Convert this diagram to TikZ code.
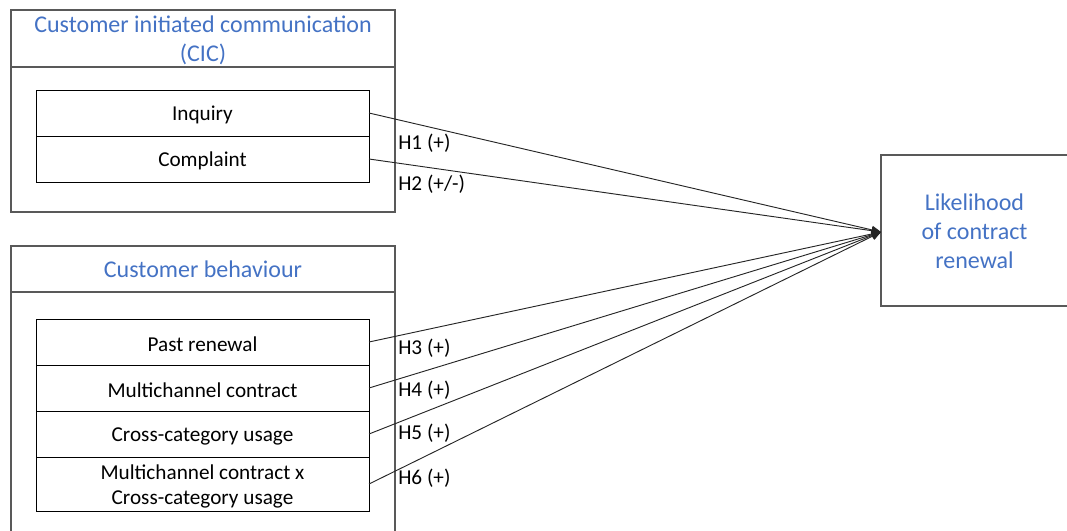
\documentclass[tikz,border=0pt]{standalone}
\usepackage{fontspec}
\setmainfont{Carlito}
\usetikzlibrary{arrows.meta}
\definecolor{hblue}{HTML}{4472C4}
\definecolor{framegray}{HTML}{595959}
\begin{document}
\begin{tikzpicture}[x=0.75pt,y=-0.75pt,
 outerbox/.style={draw=framegray,line width=0.9pt,inner sep=0pt,outer sep=0pt},
 rowbox/.style={draw=black,line width=0.65pt,minimum width={333*0.75pt},minimum height={46*0.75pt},inner sep=0pt,outer sep=0pt},
 rowtext/.style={font=\fontsize{15.9}{18.75}\selectfont,align=center,inner sep=0pt,yshift=-1.6pt},
 headtext/.style={text=hblue,font=\fontsize{18}{21.75}\selectfont,align=center,inner sep=0pt},
 hyp/.style={anchor=west,inner sep=0pt,font=\fontsize{15.9}{19}\selectfont},
 link/.style={draw=black!85,line width=0.7pt,-{Triangle[length=7pt,width=6pt]}}]
\clip (0,0) rectangle (1067,531);
\useasboundingbox (0,0) rectangle (1067,531);
% CIC group
\node[outerbox,minimum width={384*0.75pt},minimum height={202*0.75pt}] (cicbox) at (203,111) {};
\node[outerbox,minimum width={384*0.75pt},minimum height={57*0.75pt}] (cichead) at (203,38.5) {};
\node[headtext] (cictitle) at (203,40.5) {Customer initiated communication\\(CIC)};
\node[rowbox,label={[rowtext]center:Inquiry}] (inquiry) at (202.5,113) {};
\node[rowbox,label={[rowtext]center:Complaint}] (complaint) at (202.5,159) {};
% Behaviour group
\node[outerbox,minimum width={384*0.75pt},minimum height={300*0.75pt}] (behbox) at (203,396) {};
\node[outerbox,minimum width={384*0.75pt},minimum height={46*0.75pt}] (behhead) at (203,269) {};
\node[headtext] (behtitle) at (203,269.5) {Customer behaviour};
\node[rowbox,label={[rowtext]center:Past renewal}] (past) at (202.5,342) {};
\node[rowbox,label={[rowtext]center:Multichannel contract}] (multi) at (202.5,388) {};
\node[rowbox,label={[rowtext]center:Cross-category usage}] (cross) at (202.5,434) {};
\node[rowbox,minimum height={54*0.75pt},label={[rowtext]center:{Multichannel contract x\\Cross-category usage}}] (mxc) at (202.5,484) {};
% Outcome
\node[outerbox,minimum width={187*0.75pt},minimum height={151*0.75pt}] (outcome) at (974.5,230.5) {};
\node[headtext] (outtext) at (974.5,231) {Likelihood\\of contract\\renewal};
\coordinate (target) at (881,232);
% Links
\draw[link] (inquiry.east) -- (target);
\draw[link] (complaint.east) -- (target);
\draw[link] (past.east) -- (target);
\draw[link] (multi.east) -- (target);
\draw[link] (cross.east) -- (target);
\draw[link] (mxc.east) -- (target);
% Labels
\node[hyp] (h1) at (398,143.5) {H1 (+)};
\node[hyp] (h2) at (398,184.5) {H2 (+/-)};
\node[hyp] (h3) at (398,348.5) {H3 (+)};
\node[hyp] (h4) at (398,390.5) {H4 (+)};
\node[hyp] (h5) at (398,433.5) {H5 (+)};
\node[hyp] (h6) at (398,478.5) {H6 (+)};
\end{tikzpicture}
\end{document}
